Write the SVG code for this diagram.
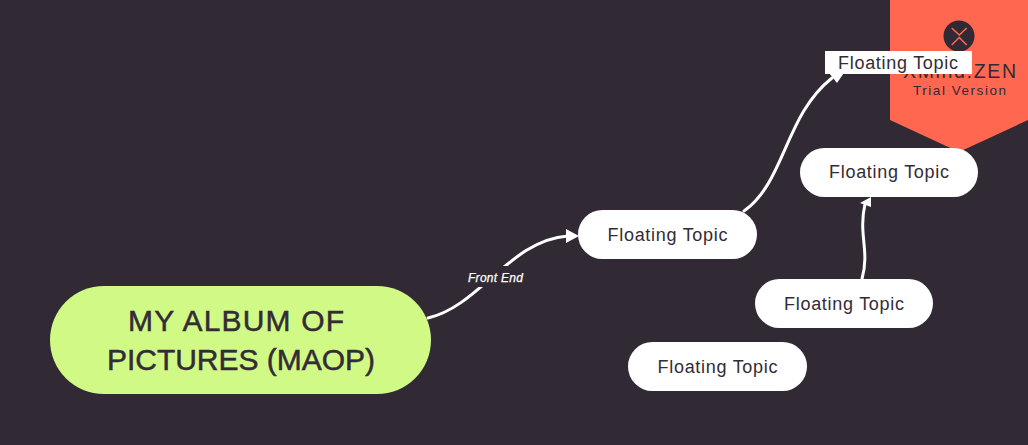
<svg xmlns="http://www.w3.org/2000/svg" width="1028" height="445" viewBox="0 0 1028 445">
<style>
text{font-family:"Liberation Sans",Arial,sans-serif}
.t{fill:#fff}
.l{font-size:18px;fill:#332c36;text-anchor:middle}
.h{font-size:30px;fill:#332c36;stroke:#332c36;stroke-width:.5px;text-anchor:middle}
.c{fill:none;stroke:#fff;stroke-width:3;stroke-linecap:round}
.a{fill:#fff}
</style>
<rect width="1028" height="445" fill="#312a34"/>
<g id="watermark">
<path d="M890 0H1028V120L959 152L890 120Z" fill="#ff6750"/>
<circle cx="959" cy="36" r="15.500" fill="#312a34"/>
<path d="M951.700 28L959.300 35L966.700 28M951.700 45L959.300 37.500L966.700 45" fill="none" stroke="#ff6750" stroke-width="1.500"/>
<text x="959.500" y="78" font-size="19.500" textLength="113" fill="#312a34" text-anchor="middle">XMind:ZEN</text>
<text x="959.500" y="95" font-size="13.500" textLength="93" fill="#312a34" text-anchor="middle">Trial Version</text>
</g>
<g id="connectors">
<path class="c" d="M428 318C480 306 510 240 568 236"/>
<polygon class="a" points="579,236 566,229 566,243"/>
<path class="c" d="M744 211C785 182 785 115 832 78"/>
<polygon class="a" points="829,73 837,83 848,67"/>
<path class="c" d="M862 279C870 250 858 235 865 204"/>
<polygon class="a" points="871,197 860,203 871,207"/>
</g>
<g id="edge-label"><rect x="464" y="266" width="62" height="21" fill="#312a34"/>
<text x="495.500" y="282" font-size="12" font-style="italic" textLength="55" fill="#fff" stroke="#fff" stroke-width=".25" text-anchor="middle">Front End</text></g>
<g id="central">
<rect x="50" y="286" width="381" height="108" rx="54" fill="#d1f986"/>
<text class="h" x="236" y="331" textLength="216">MY ALBUM OF</text>
<text class="h" x="241" y="370" textLength="268">PICTURES (MAOP)</text>
</g>
<g id="topic-1"><rect class="t" x="578" y="210" width="179" height="49" rx="24.500"/><text class="l" x="667.500" y="241" textLength="120">Floating Topic</text></g>
<g id="topic-2"><rect class="t" x="825" y="51" width="147" height="23"/><text class="l" x="898" y="69" textLength="120">Floating Topic</text></g>
<g id="topic-3"><rect class="t" x="800" y="148" width="178" height="49" rx="24.500"/><text class="l" x="889" y="178" textLength="120">Floating Topic</text></g>
<g id="topic-4"><rect class="t" x="755" y="279" width="178" height="49" rx="24.500"/><text class="l" x="844" y="310" textLength="120">Floating Topic</text></g>
<g id="topic-5"><rect class="t" x="628" y="342" width="179" height="49" rx="24.500"/><text class="l" x="717.500" y="373" textLength="120">Floating Topic</text></g>
</svg>
